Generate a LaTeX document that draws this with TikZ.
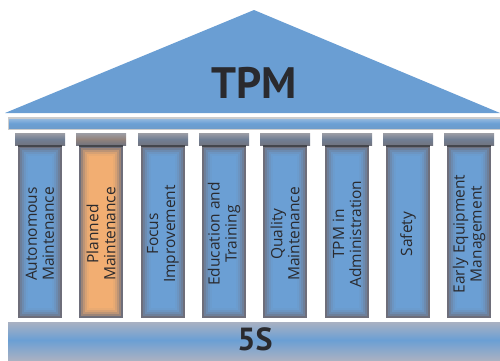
\documentclass[tikz,border=0pt]{standalone}
\usepackage{fontspec}
\setmainfont{PT Sans}
\newfontfamily\labfont{Open Sans}
\definecolor{roofblue}{HTML}{6A9ED3}
\definecolor{colblue}{HTML}{6B9FD4}
\definecolor{colgray}{HTML}{6E6E7A}
\definecolor{capgray}{HTML}{72747F}
\definecolor{colorange}{HTML}{F2AE72}
\definecolor{basegray}{HTML}{A9B1C2}
\definecolor{txt}{HTML}{2A2A2E}
\tikzset{
  lab/.style={rotate=90, align=center, text=txt, font=\labfont\fontsize{15.5}{17}\selectfont, inner sep=0pt},
}
\newcommand{\pillar}[4]{% name, center x, fill colour, label
  \fill[colgray] (#2-22,146) rectangle (#2+22,318);
  \fill[colgray!65!#3] (#2-20,148) rectangle (#2+20,316);
  \fill[colgray!40!#3] (#2-18,150) rectangle (#2+18,314);
  \fill[colgray!20!#3] (#2-16,152) rectangle (#2+16,312);
  \fill[colgray!7!#3] (#2-14,154) rectangle (#2+14,310);
  \fill[#3] (#2-12,156) rectangle (#2+12,308);
  \shade[top color=capgray!70, bottom color=capgray, middle color=capgray!75!#3] (#2-25,133) rectangle (#2+25,145);
  \fill[capgray!60!black] (#2-22,145) rectangle (#2+22,147);
  \node[lab] (#1) at (#2,234) {#4};
}
\begin{document}
\begin{tikzpicture}[x=1pt,y=-1pt]
\useasboundingbox (0,0) rectangle (500,360);
% roof
\fill[roofblue] (5,113) -- (254,10) -- (500,113) -- cycle;
\node[font=\bfseries\fontsize{44}{44}\selectfont, text=txt] (tpm) at (254,83) {TPM};
% beam
\fill[gray!40] (8,117) rectangle (500,130);
\shade[top color=colblue!75!white, bottom color=colblue!90!gray, middle color=colblue] (9,119) rectangle (500,128);
% pillars
\pillar{p1}{40}{colblue}{Autonomous\\Maintenance}
\pillar{p2}{101}{colorange}{Planned\\Maintenance}
\pillar{p3}{163}{colblue}{Focus\\Improvement}
\pillar{p4}{224}{colblue}{Education and\\Training}
\pillar{p5}{285}{colblue}{Quality\\Maintenance}
\pillar{p6}{347}{colblue}{TPM in\\Administration}
\pillar{p7}{408}{colblue}{Safety}
\pillar{p8}{469}{colblue}{Early Equipment\\Management}
% base
\shade[top color=basegray, bottom color=colblue] (8,322) rectangle (500,340);
\shade[top color=colblue, bottom color=basegray] (8,340) rectangle (500,360);
\node[font=\bfseries\fontsize{32}{32}\selectfont, text=txt] (fives) at (255,339) {5S};
\end{tikzpicture}
\end{document}
